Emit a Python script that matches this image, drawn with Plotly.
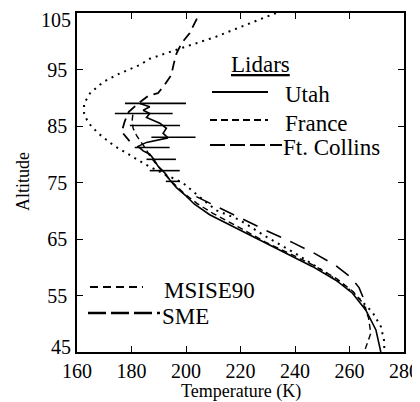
import plotly.graph_objects as go

# ---- data ----
utah_T = [183.0, 186.7, 184.3, 186.7, 185.5, 188.5, 190.4, 192.8, 191.6, 193.4, 189.7, 185.5,
          182.4, 184.3, 186.7, 188.2, 189.7, 192.2, 194.0, 196.5, 200.1, 203.0, 208.7, 218.4,
          229.4, 239.1, 246.5, 255.0, 261.1, 266.0, 269.7, 271.5]
utah_alt = [89.0, 88.4, 87.8, 87.2, 86.5, 85.9, 85.5, 84.6, 83.7, 82.9, 82.5, 82.1,
            81.4, 80.6, 80.0, 79.1, 77.9, 76.7, 75.5, 74.1, 72.6, 71.2, 69.3, 66.9,
            64.2, 61.9, 60.1, 57.7, 55.4, 52.4, 48.9, 45.0]

utah_err_alt = [89.0, 87.2, 85.1, 83.0, 81.2, 79.1, 77.1, 75.2]
utah_err_center = [188.8, 184.5, 188.6, 195.4, 187.6, 190.9, 192.2, 195.2]
utah_err_half = [11.2, 10.6, 9.2, 8.1, 6.4, 5.4, 5.5, 2.6]

france_T = [180.5, 180.2, 180.6, 182.0, 184.5, 187.0, 189.5, 192.0, 195.5, 199.5, 204.0,
            210.0, 219.0, 229.0, 239.0, 247.0, 255.5, 261.5, 265.0, 267.0, 267.8, 266.5, 265.4]
france_alt = [87.0, 85.8, 84.6, 83.2, 81.5, 79.5, 78.0, 76.5, 74.8, 73.0, 71.3,
              69.5, 67.2, 64.5, 62.2, 60.3, 57.9, 55.6, 53.6, 51.0, 48.3, 46.5, 45.0]

ftc_T = [204.0, 201.3, 198.3, 196.5, 195.5, 194.6, 192.2, 189.7, 186.0, 182.0, 179.0,
         177.5, 176.4, 178.0, 180.0]
ftc_alt = [104.0, 101.4, 99.6, 97.8, 96.0, 94.0, 92.3, 90.8, 90.3, 88.8, 87.5,
           85.8, 84.0, 83.0, 81.9]

msis_T = [233.0, 222.0, 211.0, 196.5, 186.7, 183.0, 175.7, 169.6, 164.8, 162.6, 162.6, 164.1,
          167.8, 173.3, 179.4, 185.5, 191.6, 198.9, 202.6, 211.0, 219.6, 229.4, 240.0, 251.4,
          258.0, 263.5, 268.5, 271.5, 272.7, 272.8]
msis_alt = [105.0, 102.9, 100.8, 98.5, 96.9, 95.8, 94.3, 92.8, 90.8, 89.0, 87.2, 85.6,
            83.7, 81.6, 79.9, 78.1, 76.6, 74.9, 73.4, 70.1, 68.4, 65.4, 62.5, 59.0,
            56.8, 54.5, 52.0, 49.5, 47.0, 45.0]

sme_T = [203.8, 212.0, 220.0, 229.0, 239.0, 247.0, 255.0, 260.5, 263.5, 265.4, 266.0]
sme_alt = [72.5, 70.6, 68.6, 66.6, 64.4, 62.5, 60.3, 58.2, 56.4, 54.2, 52.4]

x_ticks = [160, 180, 200, 220, 240, 260, 280]
y_ticks = [45, 55, 65, 75, 85, 95, 105]

FONT = "Liberation Serif"

fig = go.Figure()
fig.add_trace(go.Scatter(x=msis_T, y=msis_alt, mode="lines", name="MSISE90",
                         line=dict(color="black", width=2, dash="2px,5px")))
fig.add_trace(go.Scatter(x=sme_T, y=sme_alt, mode="lines", name="SME",
                         line=dict(color="black", width=1.6, dash="16px,10px")))
fig.add_trace(go.Scatter(x=ftc_T, y=ftc_alt, mode="lines", name="Ft. Collins",
                         line=dict(color="black", width=1.8, dash="10px,6px")))
fig.add_trace(go.Scatter(x=france_T, y=france_alt, mode="lines", name="France",
                         line=dict(color="black", width=1.4, dash="6px,4px")))
fig.add_trace(go.Scatter(x=utah_T, y=utah_alt, mode="lines", name="Utah",
                         line=dict(color="black", width=1.6)))
fig.add_trace(go.Scatter(x=utah_err_center, y=utah_err_alt, mode="markers", name="Utah error",
                         marker=dict(size=1, opacity=0),
                         error_x=dict(type="data", array=utah_err_half, color="black",
                                      thickness=1.6, width=0)))

# page body has an 8px margin, so the figure is sized to fit the window
OFF = 8
W, H = 420 - OFF, 402 - OFF
L, R, T, B = 77 - OFF, 16, 13 - OFF, 50
pw, ph = W - L - R, H - T - B

def px(x):
    return (x - OFF - L) / pw

def py(y):
    return (OFF + T + ph - y) / ph

shapes = []
annots = []

def legend_item(x0, x1, yl, text, tx, ty, dash, width):
    shapes.append(dict(type="line", xref="paper", yref="paper",
                       x0=px(x0), x1=px(x1), y0=py(yl), y1=py(yl),
                       line=dict(color="black", width=width, dash=dash)))
    annots.append(dict(xref="paper", yref="paper", x=px(tx), y=py(ty), text=text,
                       showarrow=False, xanchor="left", yanchor="middle",
                       font=dict(family=FONT, size=23, color="black")))

annots.append(dict(xref="paper", yref="paper", x=px(260), y=py(64), text="<u>Lidars</u>",
                   showarrow=False, xanchor="center", yanchor="middle",
                   font=dict(family=FONT, size=23, color="black")))
legend_item(212, 268, 92, "Utah", 283, 94, "solid", 2.2)
legend_item(210, 268, 120, "France", 283, 123, "7px,4px", 2.2)
legend_item(210, 282, 145, "Ft. Collins", 281, 148, "15px,5px", 2.2)
legend_item(90, 143, 287, "MSISE90", 162, 290, "8px,5px", 1.8)
legend_item(88, 160, 313, "SME", 160, 316, "18px,5px", 2.4)

# axis titles
annots.append(dict(xref="paper", yref="paper", x=px(241), y=py(391), text="Temperature (K)",
                   showarrow=False, xanchor="center", yanchor="middle",
                   font=dict(family=FONT, size=18, color="black")))
annots.append(dict(xref="paper", yref="paper", x=px(23), y=py(182), text="Altitude",
                   showarrow=False, xanchor="center", yanchor="middle", textangle=-90,
                   font=dict(family=FONT, size=18, color="black")))

# end labels of the altitude axis sit slightly inside the axis span (as in the original)
y_end_ticks = [y_ticks[0], y_ticks[-1]]
y_ticktext = ["" if v in y_end_ticks else str(v) for v in y_ticks]
for v, shift in zip(y_end_ticks, [5, -7]):
    annots.append(dict(xref="paper", yref="y", x=px(73), y=v, text=str(v),
                       showarrow=False, xanchor="right", yanchor="middle", yshift=shift,
                       font=dict(family=FONT, size=20, color="black")))

axis_common = dict(showline=True, linecolor="black", linewidth=1.6, mirror="ticks",
                   ticks="inside", ticklen=6, tickwidth=1.4, tickcolor="black",
                   showgrid=False, zeroline=False, automargin=False,
                   ticklabeloverflow="allow",
                   tickfont=dict(family=FONT, size=20, color="black"))

fig.update_layout(
    width=W, height=H,
    margin=dict(l=L, r=R, t=T, b=B),
    paper_bgcolor="white", plot_bgcolor="white",
    showlegend=False,
    shapes=shapes, annotations=annots,
    xaxis=dict(range=[160, 280], tickvals=x_ticks, **axis_common),
    yaxis=dict(range=[45, 105], tickvals=y_ticks, ticktext=y_ticktext,
               ticklabelstandoff=4, **axis_common),
)

fig.write_html("out.html")
